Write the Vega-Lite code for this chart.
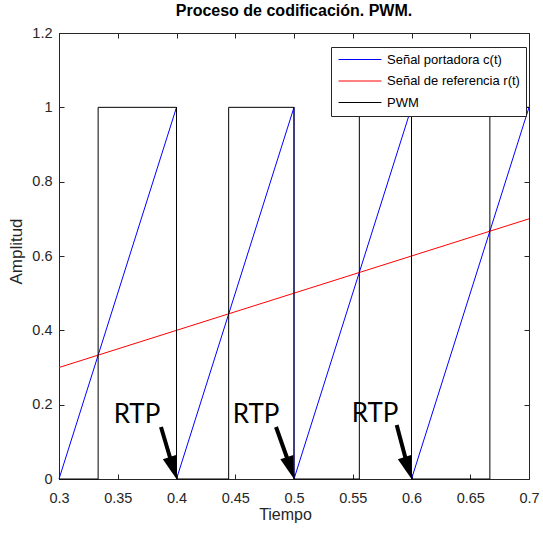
{
  "$schema": "https://vega.github.io/schema/vega-lite/v6.json",
  "width": 470,
  "height": 446,
  "autosize": "none",
  "padding": {"left": 59, "top": 33, "right": 14, "bottom": 54},
  "background": "white",
  "title": {
    "text": "Proceso de codificación. PWM.",
    "font": "Liberation Sans",
    "fontSize": 16,
    "fontWeight": "bold",
    "color": "#000000",
    "anchor": "middle",
    "offset": 6
  },
  "config": {
    "view": {"stroke": "#262626", "strokeWidth": 1},
    "axis": {
      "grid": false,
      "domain": false,
      "tickColor": "#262626",
      "tickSize": -5,
      "labelFont": "Liberation Sans",
      "labelFontSize": 14.5,
      "labelColor": "#262626",
      "labelFlush": false,
      "labelOverlap": false,
      "titleFont": "Liberation Sans",
      "titleFontSize": 16,
      "titleFontWeight": "normal",
      "titleColor": "#262626"
    },
    "legend": {
      "padding": 6,
      "strokeColor": "#262626",
      "fillColor": "white",
      "cornerRadius": 0,
      "symbolType": "M-1,0L7.6,0",
      "symbolSize": 100,
      "symbolStrokeWidth": 1,
      "labelFont": "Liberation Sans",
      "labelFontSize": 13,
      "labelColor": "#000000",
      "labelOffset": 37,
      "labelLimit": 300,
      "rowPadding": 7.5
    }
  },
  "datasets": {
    "senales": [
      {"serie": "Señal portadora c(t)", "i": 0, "t": 0.3, "v": 0},
      {"serie": "Señal portadora c(t)", "i": 1, "t": 0.4, "v": 1},
      {"serie": "Señal portadora c(t)", "i": 2, "t": 0.4, "v": 0},
      {"serie": "Señal portadora c(t)", "i": 3, "t": 0.5, "v": 1},
      {"serie": "Señal portadora c(t)", "i": 4, "t": 0.5, "v": 0},
      {"serie": "Señal portadora c(t)", "i": 5, "t": 0.6, "v": 1},
      {"serie": "Señal portadora c(t)", "i": 6, "t": 0.6, "v": 0},
      {"serie": "Señal portadora c(t)", "i": 7, "t": 0.7, "v": 1},
      {"serie": "Señal de referencia r(t)", "i": 0, "t": 0.3, "v": 0.3},
      {"serie": "Señal de referencia r(t)", "i": 1, "t": 0.7, "v": 0.7},
      {"serie": "PWM", "i": 0, "t": 0.3, "v": 0},
      {"serie": "PWM", "i": 1, "t": 0.3333, "v": 0},
      {"serie": "PWM", "i": 2, "t": 0.3333, "v": 1},
      {"serie": "PWM", "i": 3, "t": 0.4, "v": 1},
      {"serie": "PWM", "i": 4, "t": 0.4, "v": 0},
      {"serie": "PWM", "i": 5, "t": 0.4444, "v": 0},
      {"serie": "PWM", "i": 6, "t": 0.4444, "v": 1},
      {"serie": "PWM", "i": 7, "t": 0.5, "v": 1},
      {"serie": "PWM", "i": 8, "t": 0.5, "v": 0},
      {"serie": "PWM", "i": 9, "t": 0.5556, "v": 0},
      {"serie": "PWM", "i": 10, "t": 0.5556, "v": 1},
      {"serie": "PWM", "i": 11, "t": 0.6, "v": 1},
      {"serie": "PWM", "i": 12, "t": 0.6, "v": 0},
      {"serie": "PWM", "i": 13, "t": 0.6667, "v": 0},
      {"serie": "PWM", "i": 14, "t": 0.6667, "v": 1},
      {"serie": "PWM", "i": 15, "t": 0.7, "v": 1}
    ],
    "anotaciones": [
      {"txt": "RTP", "tip": 0.4, "base": 0, "x0": 0.3868, "y0": 0.14, "x1": 0.397, "y1": 0.031, "lx": 0.3664, "ly": 0.151},
      {"txt": "RTP", "tip": 0.5, "base": 0, "x0": 0.4847, "y0": 0.14, "x1": 0.497, "y1": 0.031, "lx": 0.4677, "ly": 0.151},
      {"txt": "RTP", "tip": 0.6, "base": 0, "x0": 0.5874, "y0": 0.145, "x1": 0.597, "y1": 0.031, "lx": 0.569, "ly": 0.153}
    ]
  },
  "layer": [
    {
      "data": {"name": "senales"},
      "mark": {"type": "line", "strokeWidth": 1},
      "encoding": {
        "x": {
          "field": "t", "type": "quantitative",
          "scale": {"domain": [0.3, 0.7], "nice": false, "zero": false},
          "axis": {
            "orient": "bottom", "title": "Tiempo",
            "values": [0.3, 0.35, 0.4, 0.45, 0.5, 0.55, 0.6, 0.65, 0.7],
            "format": "~g", "labelPadding": 17, "titlePadding": 2, "titleX": 226
          }
        },
        "y": {
          "field": "v", "type": "quantitative",
          "scale": {"domain": [0, 1.2], "nice": false, "zero": false},
          "axis": {
            "orient": "left", "title": "Amplitud", "titleFontSize": 17,
            "values": [0, 0.2, 0.4, 0.6, 0.8, 1, 1.2],
            "format": "~g", "labelPadding": 12, "titlePadding": 6, "titleY": 218
          }
        },
        "color": {
          "field": "serie", "type": "nominal",
          "scale": {
            "domain": ["Señal portadora c(t)", "Señal de referencia r(t)", "PWM"],
            "range": ["#0000ff", "#ff0000", "#000000"]
          },
          "legend": {
            "orient": "none", "legendX": 272, "legendY": 14, "title": null,
            "encode": {
              "symbols": {
                "update": {
                  "stroke": {"scale": "color", "field": "value"},
                  "fill": {"value": "transparent"},
                  "opacity": {"value": 1}
                }
              }
            }
          }
        },
        "order": {"field": "i", "type": "quantitative"}
      }
    },
    {
      "data": {"name": "anotaciones"},
      "mark": {"type": "rule", "strokeWidth": 4, "color": "#000000", "strokeCap": "butt"},
      "encoding": {
        "x": {
          "field": "x0", "type": "quantitative",
          "scale": {"domain": [0.3, 0.7], "nice": false, "zero": false},
          "axis": {
            "orient": "top", "labels": false, "title": null,
            "values": [0.3, 0.35, 0.4, 0.45, 0.5, 0.55, 0.6, 0.65, 0.7]
          }
        },
        "y": {
          "field": "y0", "type": "quantitative",
          "scale": {"domain": [0, 1.2], "nice": false, "zero": false},
          "axis": {
            "orient": "right", "labels": false, "title": null,
            "values": [0, 0.2, 0.4, 0.6, 0.8, 1, 1.2]
          }
        },
        "x2": {"field": "x1"},
        "y2": {"field": "y1"}
      }
    },
    {
      "data": {"name": "anotaciones"},
      "mark": {
        "type": "point",
        "shape": "M0,0L-0.6,-2L0.6,-2Z",
        "size": 529,
        "angle": -18,
        "filled": true,
        "color": "#000000",
        "opacity": 1,
        "strokeWidth": 0
      },
      "encoding": {
        "x": {"field": "tip", "type": "quantitative", "scale": {"domain": [0.3, 0.7], "nice": false, "zero": false}, "axis": null},
        "y": {"field": "base", "type": "quantitative", "scale": {"domain": [0, 1.2], "nice": false, "zero": false}, "axis": null}
      }
    },
    {
      "data": {"name": "anotaciones"},
      "mark": {
        "type": "text",
        "font": "Lato",
        "fontSize": 26,
        "color": "#000000",
        "align": "center",
        "baseline": "alphabetic"
      },
      "encoding": {
        "x": {"field": "lx", "type": "quantitative", "scale": {"domain": [0.3, 0.7], "nice": false, "zero": false}, "axis": null},
        "y": {"field": "ly", "type": "quantitative", "scale": {"domain": [0, 1.2], "nice": false, "zero": false}, "axis": null},
        "text": {"field": "txt"}
      }
    }
  ],
  "resolve": {"axis": {"x": "independent", "y": "independent"}}
}
